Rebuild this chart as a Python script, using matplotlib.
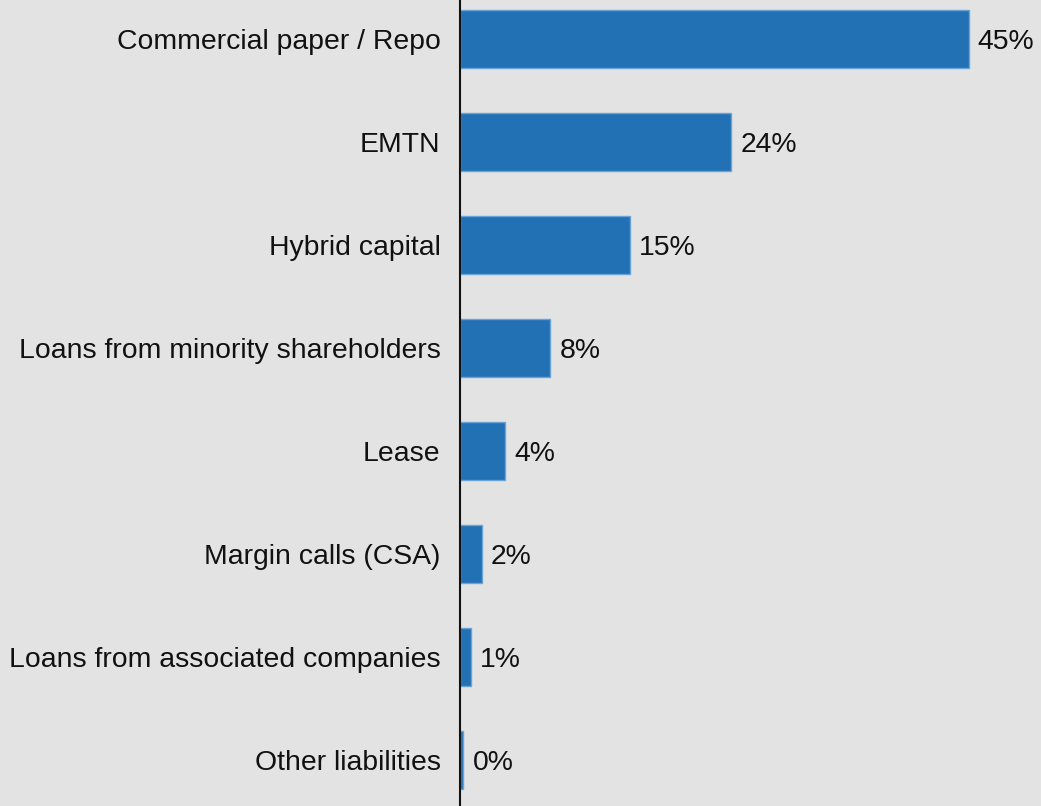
import matplotlib
matplotlib.use('Agg')
import matplotlib.pyplot as plt

# data
categories = ['Commercial paper / Repo', 'EMTN', 'Hybrid capital',
              'Loans from minority shareholders', 'Lease', 'Margin calls (CSA)',
              'Loans from associated companies', 'Other liabilities']
values = [45.0, 24.0, 15.0, 8.0, 4.0, 1.95, 1.0, 0.3]
labels = ['45%', '24%', '15%', '8%', '4%', '2%', '1%', '0%']

BG = '#e3e3e3'
BAR = '#2271b5'
EDGE = '#6aa3d6'

plt.rcParams['font.family'] = ['Liberation Sans', 'DejaVu Sans']

fig = plt.figure(figsize=(10.41, 8.06), dpi=100, facecolor=BG)
ax = fig.add_axes([460 / 1041, 0, 1 - 460 / 1041, 1], facecolor=BG)

pos = list(range(len(categories)))
bars = ax.barh(pos, values, height=0.56, color=BAR, edgecolor=EDGE, linewidth=1.0)

for b, lab in zip(bars, labels):
    ax.annotate(lab, (b.get_width(), b.get_y() + b.get_height() / 2),
                xytext=(6.5, 0), textcoords='offset points',
                ha='left', va='center_baseline', fontsize=20.4, color='#111111')

ax.set_xlim(0, 51.4)
ax.set_ylim(7 + 0.447, -0.379)
ax.set_yticks(pos)
ax.set_yticklabels(categories, fontsize=20.4, color='#111111')
ax.tick_params(axis='y', length=0, pad=14)
ax.set_xticks([])
for s in ['top', 'right', 'bottom']:
    ax.spines[s].set_visible(False)
ax.spines['left'].set_linewidth(1.5)
ax.spines['left'].set_color('#111111')

fig.savefig('out.png', dpi=100, facecolor=BG)
